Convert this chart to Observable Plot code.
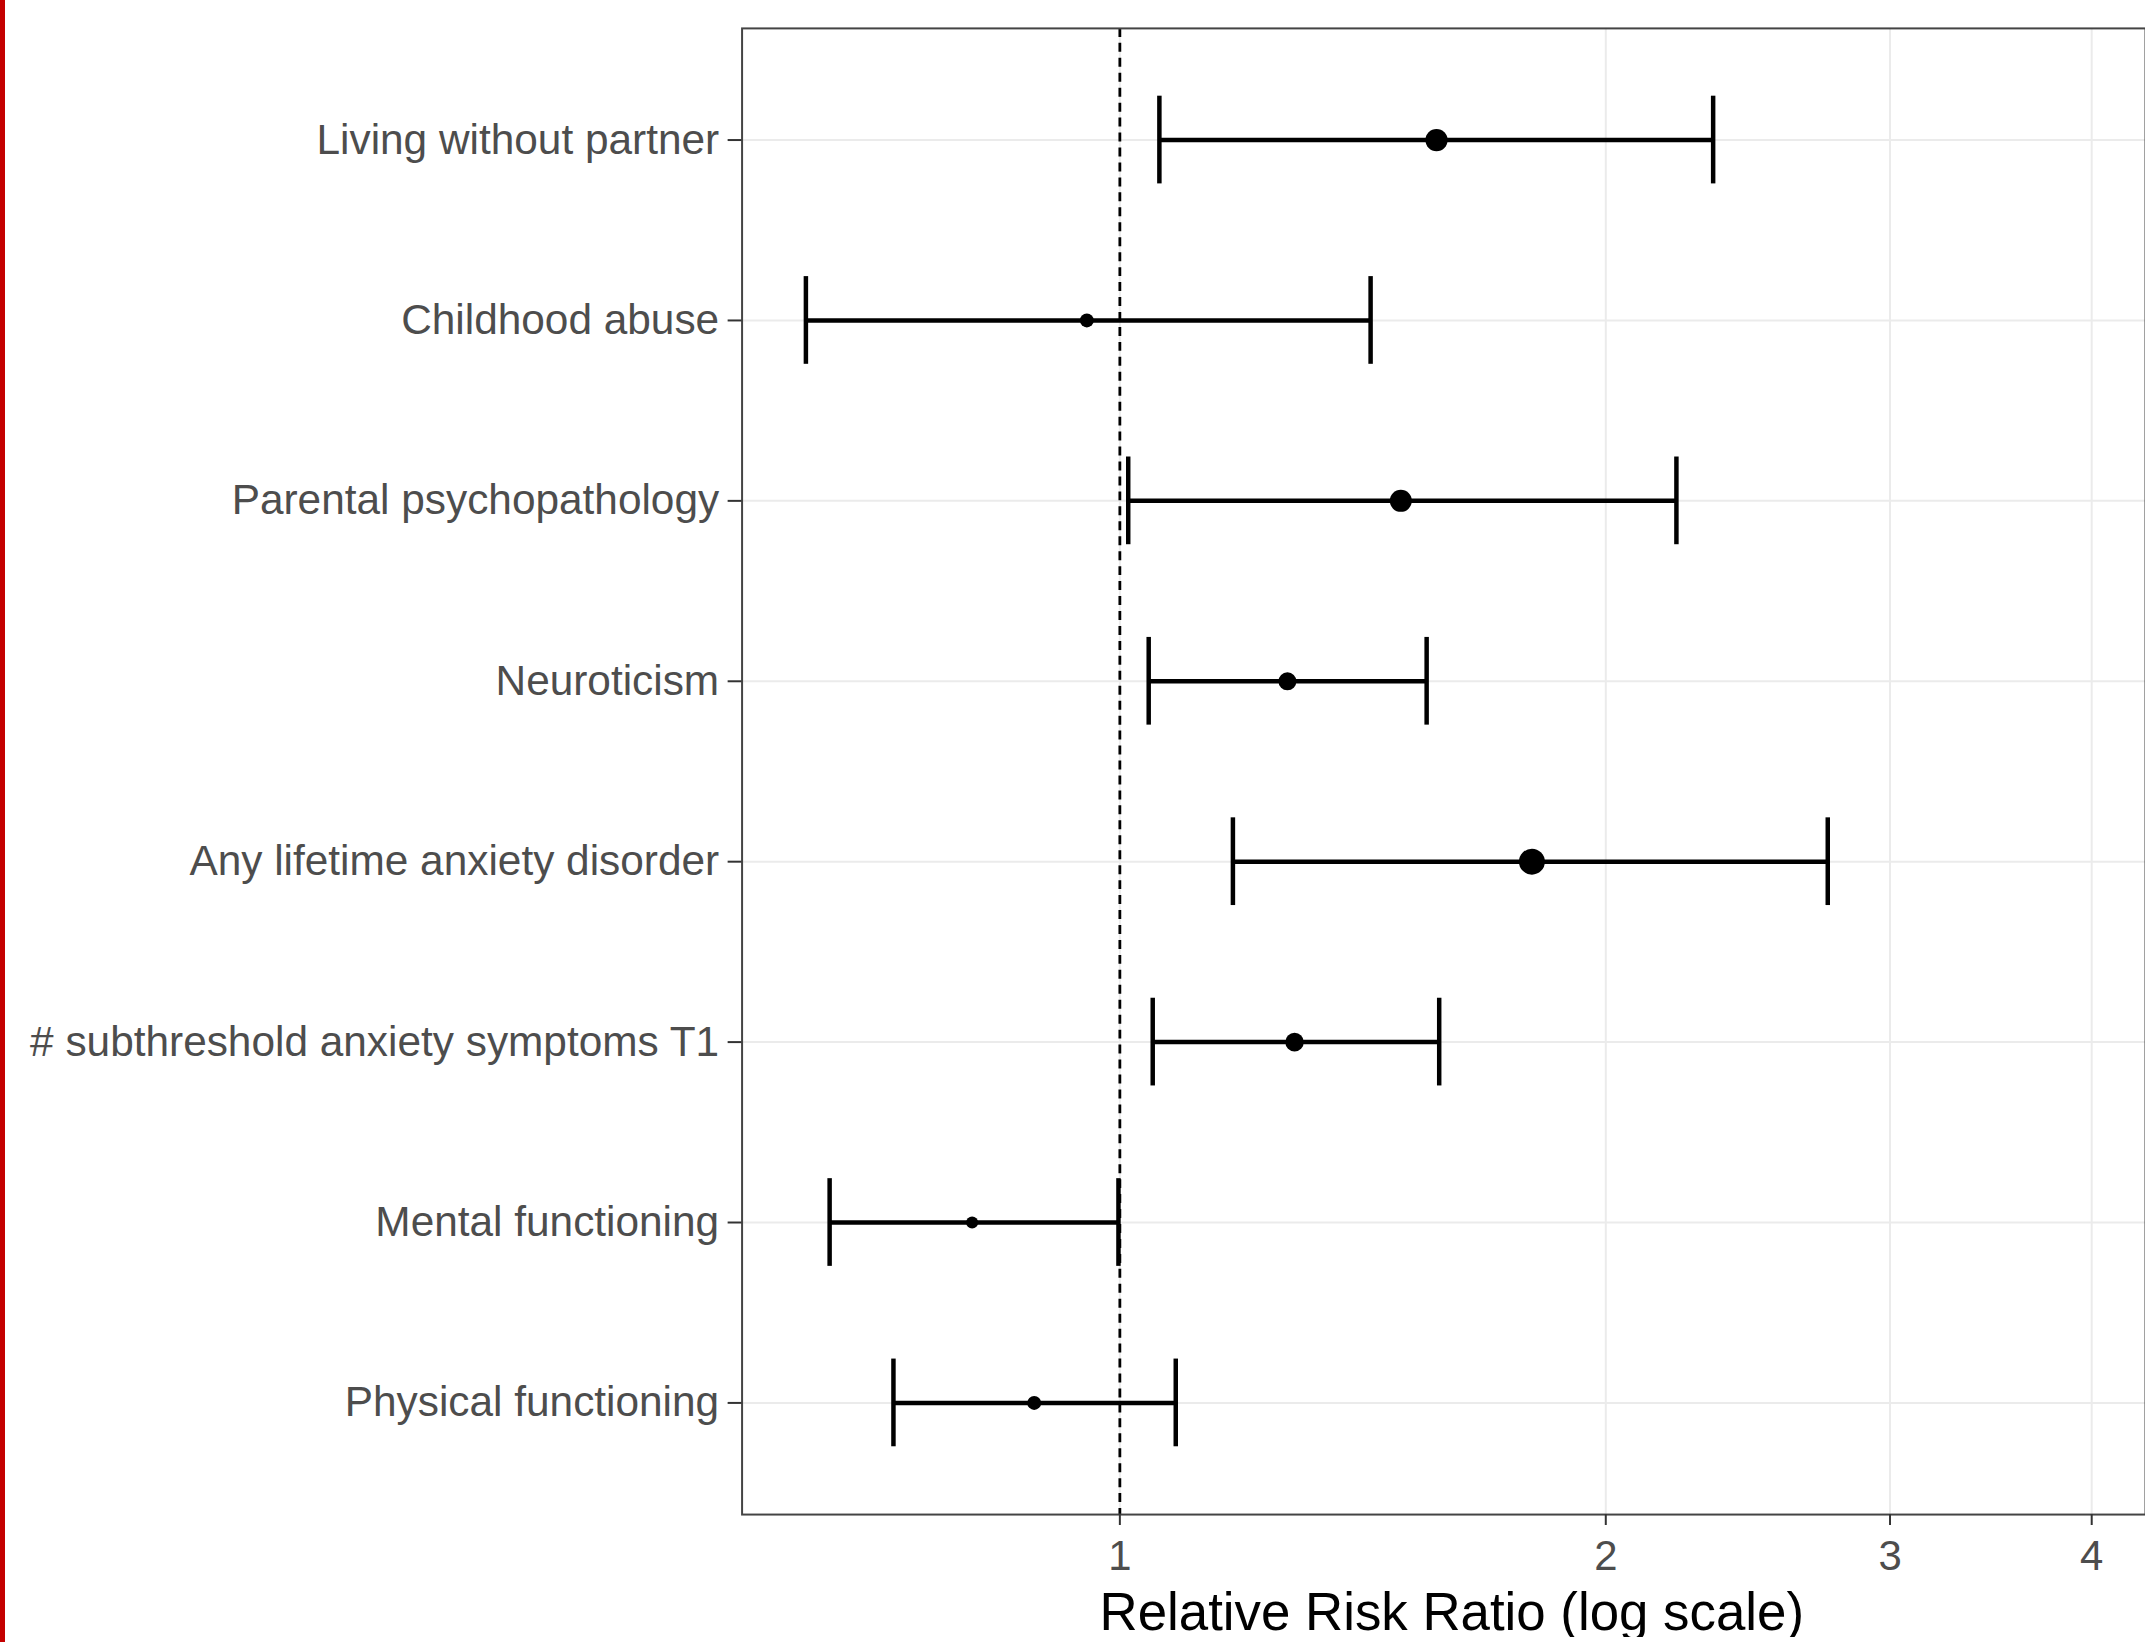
<!DOCTYPE html>
<html>
<head>
<meta charset="utf-8">
<script src="https://cdn.jsdelivr.net/npm/d3@7"></script>
<script src="https://cdn.jsdelivr.net/npm/@observablehq/plot@0.6"></script>
<style>
  html, body { margin: 0; padding: 0; background: white; overflow: hidden; width: 2145px; height: 1642px; }
  #bar { position: absolute; left: 0; top: 0; width: 5px; height: 1642px; background: #c40000; z-index: 2; }
  #chart { position: absolute; left: 0; top: 0; }
</style>
</head>
<body>
<div id="bar"></div>
<div id="chart"></div>
<script>
const labels = [
  "Living without partner",
  "Childhood abuse",
  "Parental psychopathology",
  "Neuroticism",
  "Any lifetime anxiety disorder",
  "# subthreshold anxiety symptoms T1",
  "Mental functioning",
  "Physical functioning"
];
const estimates = [1.571, 0.954, 1.493, 1.270, 1.800, 1.283, 0.810, 0.885];
const lower     = [1.058, 0.639, 1.012, 1.042, 1.175, 1.048, 0.661, 0.724];
const upper     = [2.331, 1.430, 2.212, 1.549, 2.745, 1.577, 0.998, 1.083];
const weights   = [92, 36, 90, 60, 125, 64, 27, 36];
const xTicks = [1, 2, 3, 4];
const refValue = 1;
const xLabel = "Relative Risk Ratio (log scale)";

const data = labels.map((label, i) => ({
  label, est: estimates[i], lo: lower[i], hi: upper[i], w: weights[i]
}));

const chart = Plot.plot({
  width: 2152,
  height: 1642,
  marginLeft: 744,
  marginRight: 0,
  marginTop: 28,
  marginBottom: 123,
  style: { fontFamily: "'Liberation Sans', Arial, sans-serif", background: "white" },
  x: { type: "log", domain: [0.5834, 4.319] },
  y: { type: "band", domain: labels, paddingInner: 0.515, paddingOuter: 0.36 },
  r: { type: "sqrt", domain: [0, 121], range: [0, 12.8] },
  marks: [
    Plot.gridX(xTicks, { stroke: "#ebebeb", strokeOpacity: 1, strokeWidth: 2 }),
    Plot.gridY({ stroke: "#ebebeb", strokeOpacity: 1, strokeWidth: 2 }),
    Plot.ruleX([refValue], { stroke: "black", strokeWidth: 2.8, strokeDasharray: "9,6" }),
    Plot.ruleY(data, { y: "label", x1: "lo", x2: "hi", stroke: "black", strokeWidth: 4.5 }),
    Plot.tickX(data, { x: "lo", y: "label", stroke: "black", strokeWidth: 4.5 }),
    Plot.tickX(data, { x: "hi", y: "label", stroke: "black", strokeWidth: 4.5 }),
    Plot.dot(data, { x: "est", y: "label", r: "w", fill: "black", stroke: "none" }),
    Plot.frame({ stroke: "#444", strokeWidth: 2 }),
    Plot.axisY({ tickSize: 14, tickPadding: 9, fontSize: 42.5, stroke: "#333", fill: "#4d4d4d", strokeWidth: 2, label: null }),
    Plot.axisX(xTicks, { tickSize: 11, tickPadding: 15, fontSize: 42, stroke: "#333", fill: "#4d4d4d", strokeWidth: 2, tickFormat: d => String(d), label: null }),
    Plot.text([xLabel], { frameAnchor: "bottom", dy: 116, dx: 8, fontSize: 53, fill: "black" })
  ]
});
document.getElementById("chart").appendChild(chart);
</script>
</body>
</html>
